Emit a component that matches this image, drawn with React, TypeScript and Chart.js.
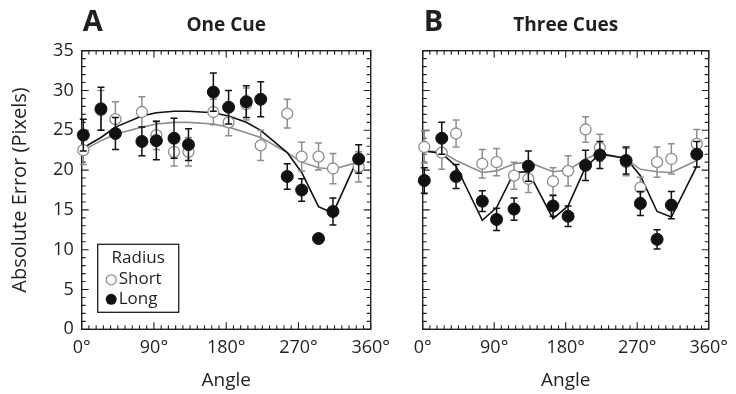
import React, { useEffect, useRef } from 'react';
import { Chart, registerables } from 'chart.js';

Chart.register(...registerables);

// ---- data ----
const angles = [2, 24, 42, 75, 93, 115, 133, 164, 183, 205, 223, 256, 274, 295, 313, 345];
const xTickValues = [0, 90, 180, 270, 360];
const yTickValues = [0, 5, 10, 15, 20, 25, 30, 35];

const oneShort = [22.5, 27.5, 26.4, 27.3, 24.4, 22.3, 22.3, 27.3, 26.0, 28.3, 23.1, 27.1, 21.7, 21.7, 20.2, 20.4];
const oneShortErr = [1.8, 2.5, 2.2, 1.9, 1.8, 1.8, 1.8, 1.6, 1.7, 2.0, 1.9, 1.8, 1.8, 1.7, 1.9, 1.9];
const oneLong = [24.4, 27.7, 24.6, 23.6, 23.7, 24.0, 23.2, 29.8, 27.9, 28.6, 28.9, 19.2, 17.5, 11.4, 14.8, 21.4];
const oneLongErr = [2.0, 2.7, 2.0, 1.8, 2.4, 2.5, 2.0, 2.4, 2.1, 2.0, 2.2, 1.6, 1.4, 0.6, 1.7, 1.8];
const oneShortFit = [22.5, 23.7, 24.5, 25.4, 25.8, 26.0, 26.0, 25.8, 25.4, 24.7, 24.1, 22.2, 21.0, 20.3, 20.1, 21.0];
const oneLongFit = [22.8, 24.1, 25.4, 26.8, 27.2, 27.4, 27.4, 27.2, 26.8, 26.0, 25.0, 22.2, 19.7, 15.4, 14.6, 21.7];

const threeShort = [22.9, 22.2, 24.6, 20.8, 21.0, 19.3, 18.9, 18.6, 19.9, 25.1, 22.8, 21.0, 17.8, 21.0, 21.4, 23.3];
const threeShortErr = [2.0, 2.1, 1.7, 1.8, 1.7, 1.7, 1.7, 1.7, 1.9, 1.6, 1.7, 1.7, 1.3, 1.9, 1.9, 1.8];
const threeLong = [18.7, 24.0, 19.2, 16.1, 13.8, 15.1, 20.5, 15.5, 14.2, 20.6, 21.9, 21.2, 15.8, 11.3, 15.6, 22.0];
const threeLongErr = [1.6, 2.0, 1.5, 1.3, 1.4, 1.4, 1.9, 1.3, 1.3, 1.9, 1.7, 1.7, 1.5, 1.2, 1.7, 1.6];
const threeShortFit = [22.4, 22.3, 21.2, 19.7, 19.9, 20.8, 21.0, 19.8, 20.0, 21.4, 22.2, 21.4, 20.1, 19.8, 19.7, 21.2];
const threeLongFit = [22.4, 22.1, 20.5, 13.7, 15.3, 19.7, 19.8, 13.9, 15.5, 20.4, 22.0, 21.5, 19.3, 14.8, 14.1, 20.5];

const xMinorStep = 9;
const yMinorStep = 1;

const FONT = '"Open Sans", sans-serif';
const INK = '#231f20';
const GRAY = '#8e8e8e';

const pts = (ys: number[]) => ys.map((y, i) => ({ x: angles[i], y }));

const framePlugin = {
  id: 'frameTicks',
  beforeDatasetsDraw(chart: any) {
    const { ctx, chartArea: a, scales } = chart;
    const xs = scales.x;
    const ys = scales.y;
    ctx.save();
    ctx.strokeStyle = INK;
    ctx.lineWidth = 1.1;
    ctx.beginPath();
    for (let v = xs.min; v <= xs.max + 1e-6; v += xMinorStep) {
      const px = xs.getPixelForValue(v);
      const len = xTickValues.includes(v) ? 7 : 4;
      ctx.moveTo(px, a.bottom);
      ctx.lineTo(px, a.bottom - len);
      ctx.moveTo(px, a.top);
      ctx.lineTo(px, a.top + len);
    }
    for (let v = ys.min; v <= ys.max + 1e-6; v += yMinorStep) {
      const py = ys.getPixelForValue(v);
      const len = yTickValues.includes(v) ? 7 : 4;
      ctx.moveTo(a.left, py);
      ctx.lineTo(a.left + len, py);
      ctx.moveTo(a.right, py);
      ctx.lineTo(a.right - len, py);
    }
    ctx.stroke();
    ctx.lineWidth = 1.4;
    ctx.strokeRect(a.left, a.top, a.right - a.left, a.bottom - a.top);
    ctx.restore();
  },
  beforeDatasetDraw(chart: any, args: any) {
    const ds = chart.data.datasets[args.index];
    const errs: number[] | undefined = ds.errors;
    if (!errs) return;
    const { ctx } = chart;
    const ys = chart.scales.y;
    ctx.save();
    ctx.strokeStyle = ds.errColor;
    ctx.lineWidth = 1.5;
    ctx.beginPath();
    args.meta.data.forEach((el: any, i: number) => {
      const v = ds.data[i].y;
      const e = errs[i];
      const top = ys.getPixelForValue(v + e);
      const bot = ys.getPixelForValue(v - e);
      ctx.moveTo(el.x, top);
      ctx.lineTo(el.x, bot);
      ctx.moveTo(el.x - 3.5, top);
      ctx.lineTo(el.x + 3.5, top);
      ctx.moveTo(el.x - 3.5, bot);
      ctx.lineTo(el.x + 3.5, bot);
    });
    ctx.stroke();
    ctx.restore();
  },
  afterDraw(chart: any, _args: any, opts: any) {
    const { ctx, chartArea: a } = chart;
    ctx.save();
    ctx.fillStyle = INK;
    ctx.textBaseline = 'alphabetic';
    ctx.textAlign = 'left';
    ctx.font = `bold 29px ${FONT}`;
    ctx.fillText(opts.letter, a.left + 1, 31);
    ctx.textAlign = 'center';
    ctx.font = `bold 19px ${FONT}`;
    ctx.fillText(opts.title, (a.left + a.right) / 2, 31);
    if (opts.legend) {
      const bx = a.left + 16;
      const by = a.bottom - 17 - 68;
      ctx.lineWidth = 1.3;
      ctx.strokeStyle = INK;
      ctx.strokeRect(bx, by, 81, 68);
      ctx.font = `17px ${FONT}`;
      ctx.textBaseline = 'middle';
      ctx.textAlign = 'center';
      ctx.fillText('Radius', bx + 40.5, by + 14);
      ctx.textAlign = 'left';
      ctx.fillText('Short', bx + 21, by + 35);
      ctx.fillText('Long', bx + 21, by + 55);
      ctx.beginPath();
      ctx.arc(bx + 13.5, by + 35.5, 5, 0, Math.PI * 2);
      ctx.fillStyle = '#fff';
      ctx.fill();
      ctx.strokeStyle = GRAY;
      ctx.lineWidth = 1.3;
      ctx.stroke();
      ctx.beginPath();
      ctx.arc(bx + 13.5, by + 55, 5.5, 0, Math.PI * 2);
      ctx.fillStyle = '#111';
      ctx.fill();
    }
    ctx.restore();
  },
};

type PanelProps = {
  letter: string;
  title: string;
  legend: boolean;
  showY: boolean;
  short: number[];
  shortErr: number[];
  long: number[];
  longErr: number[];
  shortFit: number[];
  longFit: number[];
  width: number;
  yWidth: number;
  padRight: number;
  left: number;
};

function Panel(p: PanelProps) {
  const ref = useRef<HTMLCanvasElement>(null);
  useEffect(() => {
    // Chart.js paints the first dataset last (on top), so points come first.
    const chart = new Chart(ref.current as HTMLCanvasElement, {
      type: 'scatter',
      data: {
        datasets: [
          {
            data: pts(p.long), errors: p.longErr, errColor: '#111', showLine: false,
            pointRadius: 6, pointBorderWidth: 1, pointBackgroundColor: '#111', pointBorderColor: '#111', clip: false,
          } as any,
          {
            data: pts(p.short), errors: p.shortErr, errColor: GRAY, showLine: false,
            pointRadius: 5.5, pointBorderWidth: 1.3, pointBackgroundColor: '#fff', pointBorderColor: GRAY, clip: false,
          } as any,
          { data: pts(p.longFit), showLine: true, borderColor: '#111', borderWidth: 1.6, pointRadius: 0, clip: false } as any,
          { data: pts(p.shortFit), showLine: true, borderColor: GRAY, borderWidth: 1.6, pointRadius: 0, clip: false } as any,
        ],
      },
      options: {
        responsive: false,
        animation: false,
        devicePixelRatio: 1,
        layout: { padding: { top: 50.7, right: p.padRight, left: 0, bottom: 0 } },
        plugins: {
          legend: { display: false },
          tooltip: { enabled: false },
          frameTicks: { letter: p.letter, title: p.title, legend: p.legend },
        } as any,
        scales: {
          x: {
            type: 'linear',
            min: 0,
            max: 360,
            afterBuildTicks: (s: any) => { s.ticks = xTickValues.map((v) => ({ value: v })); },
            afterFit: (s: any) => { s.height = 64.7; },
            grid: { display: false, drawTicks: false },
            border: { display: false },
            ticks: {
              padding: 8,
              maxRotation: 0,
              color: INK,
              font: { family: FONT, size: 18 },
              callback: (v: any) => `${v}°`,
            },
            title: { display: true, text: 'Angle', color: INK, font: { family: FONT, size: 19 }, padding: { top: 0, bottom: 2 } },
          },
          y: {
            type: 'linear',
            min: 0,
            max: 35,
            afterBuildTicks: (s: any) => { s.ticks = yTickValues.map((v) => ({ value: v })); },
            afterFit: (s: any) => { s.width = p.yWidth; },
            grid: { display: false, drawTicks: false },
            border: { display: false },
            ticks: { display: p.showY, padding: 8, color: INK, font: { family: FONT, size: 18 } },
            title: {
              display: p.showY, text: 'Absolute Error (Pixels)', color: INK,
              font: { family: FONT, size: 20 }, padding: { top: 8, bottom: 0 },
            },
          },
        },
      },
      plugins: [framePlugin as any],
    });
    return () => chart.destroy();
  }, []);
  return (
    <canvas
      ref={ref}
      width={p.width}
      height={394}
      style={{ position: 'absolute', left: p.left, top: 0, width: p.width, height: 394 }}
    />
  );
}

export default function App() {
  return (
    <div style={{ position: 'fixed', left: 0, top: 0, width: 736, height: 394, background: '#fff' }}>
      <Panel
        letter="A" title="One Cue" legend={true} showY={true}
        short={oneShort} shortErr={oneShortErr} long={oneLong} longErr={oneLongErr}
        shortFit={oneShortFit} longFit={oneLongFit}
        width={398} yWidth={81.7} padRight={23.7} left={0}
      />
      <Panel
        letter="B" title="Three Cues" legend={false} showY={false}
        short={threeShort} shortErr={threeShortErr} long={threeLong} longErr={threeLongErr}
        shortFit={threeShortFit} longFit={threeLongFit}
        width={338} yWidth={24.7} padRight={20.3} left={398}
      />
    </div>
  );
}
